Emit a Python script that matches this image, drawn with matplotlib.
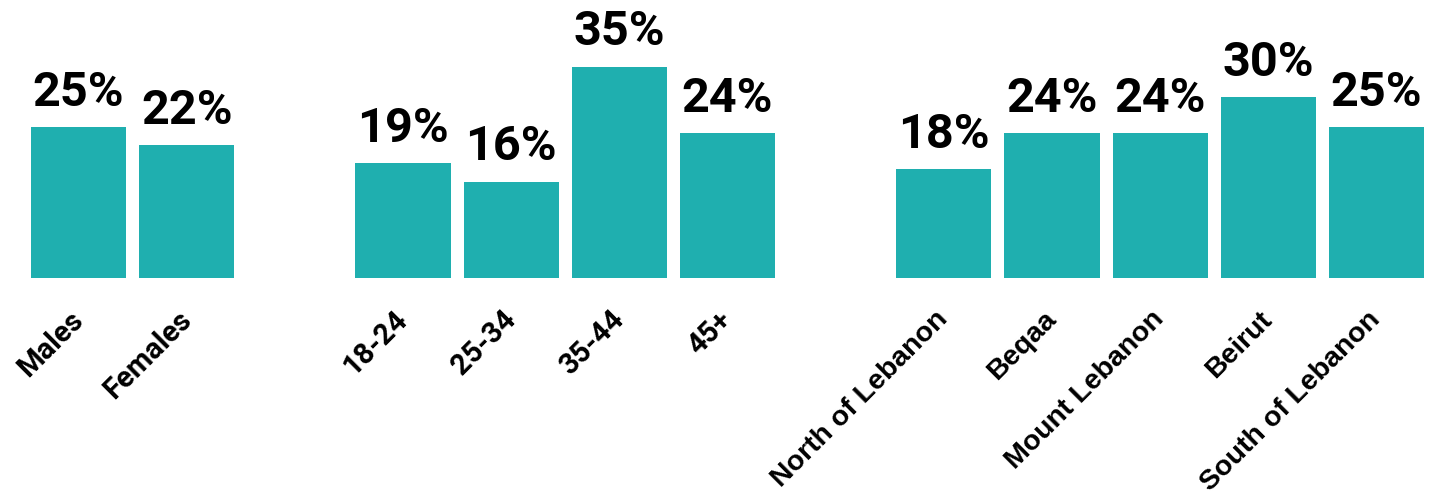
import numpy as np
import matplotlib
matplotlib.use("Agg")
import matplotlib.pyplot as plt

# share of respondents per group
gender = ["Males", "Females"]
gender_pct = [25, 22]

age = ["18-24", "25-34", "35-44", "45+"]
age_pct = [19, 16, 35, 24]

region = ["North of Lebanon", "Beqaa", "Mount Lebanon", "Beirut", "South of Lebanon"]
region_pct = [18, 24, 24, 30, 25]

TEAL = "#1FAFAF"

# one empty slot between the groups
labels = gender + age + region
values = gender_pct + age_pct + region_pct
x = np.concatenate([np.arange(len(gender)),
                    np.arange(len(age)) + len(gender) + 1,
                    np.arange(len(region)) + len(gender) + len(age) + 2])

fig = plt.figure(figsize=(14.4, 4.97), dpi=100)
ax = fig.add_axes([31 / 1440, 219 / 497, 1393 / 1440, 211 / 497])

ax.bar(x, values, width=0.88, color=TEAL)

for xi, v in zip(x, values):
    ax.annotate(f"{v}%", (xi, v), xytext=(0, 15.5), textcoords="offset points",
                ha="center", va="baseline", fontsize=35, fontweight="bold",
                family="Roboto", color="black")

ax.set_xlim(-0.44, x[-1] + 0.44)
ax.set_ylim(0, 35)
ax.set_xticks(x)
ax.set_xticklabels(labels, rotation=45, ha="right", va="center",
                   rotation_mode="anchor", fontsize=21, fontweight="bold",
                   family="Roboto")
ax.tick_params(axis="x", length=0, pad=27)
ax.set_yticks([])
for lab in ax.get_xticklabels()[len(gender) + len(age):]:
    lab.set_family("Liberation Sans")
    lab.set_fontsize(20.5)
for s in ax.spines.values():
    s.set_visible(False)

fig.savefig("out.png", dpi=100)
